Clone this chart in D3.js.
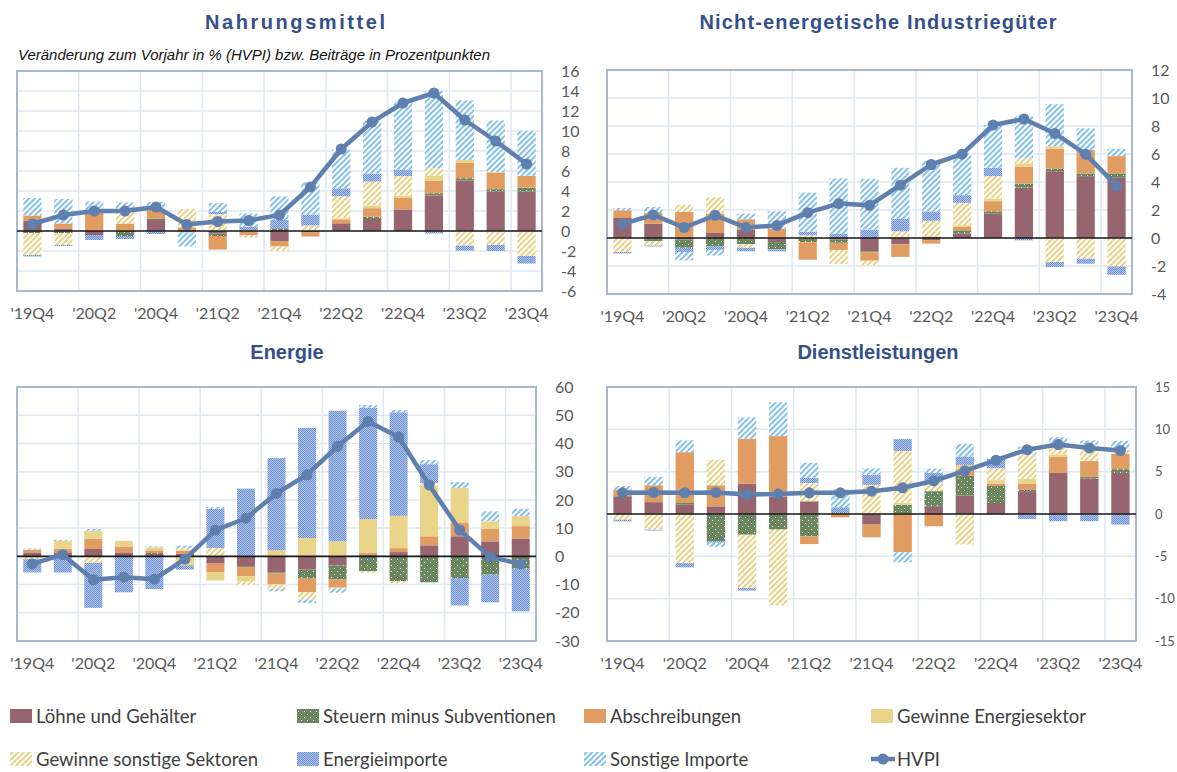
<!DOCTYPE html>
<html>
<head>
<meta charset="utf-8">
<script src="https://cdn.jsdelivr.net/npm/d3@7"></script>
<style>
  body { margin: 0; background: #fff; }
  svg { display: block; font-family: Lato, "Liberation Sans", sans-serif; }
</style>
</head>
<body>
<div id="chart"></div>
<script>

// ---- data -------------------------------------------------------------
const quarters = ["19Q4", "20Q1", "20Q2", "20Q3", "20Q4", "21Q1", "21Q2", "21Q3", "21Q4",
    "22Q1", "22Q2", "22Q3", "22Q4", "23Q1", "23Q2", "23Q3", "23Q4"];
const labelQuarters = quarters.filter(function(d, i) { return i % 2 === 0; });

const seriesKeys = ["loehne", "steuern", "abschr", "gewE", "gewS", "energieImp", "sonstImp"];
const seriesLabels = ["Löhne und Gehälter", "Steuern minus Subventionen", "Abschreibungen",
    "Gewinne Energiesektor", "Gewinne sonstige Sektoren", "Energieimporte", "Sonstige Importe"];
const lineLabel = "HVPI";

const panelTitles = ["Nahrungsmittel", "Nicht-energetische Industriegüter", "Energie", "Dienstleistungen"];
const subtitle = "Veränderung zum Vorjahr in % (HVPI) bzw. Beiträge in Prozentpunkten";

// Nahrungsmittel
const food_loehne     = [1.05, 0.25, -0.4, -0.1, 1.1, 0.1, -0.25, 0.05, -1.05, -0.15, 0.77, 1.2, 2.15, 3.55, 5.05, 3.95, 3.95];
const food_steuern    = [-0.2, -0.2, 0, -0.4, 0.15, 0, -0.25, 0, 0.27, 0, 0, 0.23, 0, 0.23, 0.23, 0.23, 0.4];
const food_abschr     = [0.5, 0.5, 1.8, 0.75, 0.95, 0.25, -1.35, -0.4, -0.5, -0.4, 0.4, 0.85, 1.15, 1.27, 1.55, 1.67, 1.17];
const food_gewE       = [0, 0, 0, 0, 0, 0, 0, 0, 0, 0, 0.1, 0.27, 0.25, 0.45, 0.27, 0.05, 0];
const food_gewS       = [-2.2, -1.2, 0, 1.3, 0, 1.85, 1.7, -0.25, -0.45, 0.55, 2.2, 2.4, 1.95, 0.8, -1.47, -1.4, -2.5];
const food_energieImp = [-0.15, -0.1, -0.5, -0.3, -0.3, -0.15, 0.2, 0.4, 0.85, 1.1, 0.8, 0.8, 0.65, -0.25, -0.5, -0.6, -0.75];
const food_sonstImp   = [1.75, 2.45, 1.15, 0.8, 0.7, -1.4, 0.9, 1.3, 2.35, 3.2, 3.85, 5.25, 6.7, 7.7, 5.95, 5.15, 4.5];
const food_hvpi       = [0.7, 1.6, 2.0, 2.0, 2.4, 0.65, 0.95, 1.05, 1.6, 4.4, 8.2, 10.9, 12.8, 13.8, 11.1, 9.0, 6.7];

// Nicht-energetische Industriegüter
const goods_loehne     = [1.43, 1.03, -0.1, 0.36, 0.6, -0.29, 0, -0.1, -0.95, -0.45, -0.15, 0.31, 1.74, 3.6, 4.77, 4.37, 4.3];
const goods_steuern    = [0, -0.24, -0.6, -0.6, -0.45, -0.52, -0.3, -0.24, -0.07, 0, 0.1, 0.24, 0.17, 0.29, 0.19, 0.24, 0.31];
const goods_abschr     = [0.55, 0.76, 1.86, 1.38, 0.74, 0.67, -1.25, -0.52, -0.6, -0.9, -0.25, 0.24, 0.72, 1.2, 1.43, 1.67, 1.24];
const goods_gewE       = [0, 0, 0, 0, 0, 0, 0, 0, 0, 0, 0, 0.12, 0.19, 0.24, 0.17, 0, 0];
const goods_gewS       = [-1.0, -0.3, 0.52, 1.15, -0.25, 0, 0.2, -1.0, -0.33, 0.48, 1.13, 1.6, 1.6, 0.36, -1.72, -1.48, -2.03];
const goods_energieImp = [-0.1, -0.07, -0.3, -0.25, -0.25, -0.15, 0.24, 0.3, 0.6, 0.88, 0.67, 0.55, 0.6, -0.17, -0.36, -0.36, -0.6];
const goods_sonstImp   = [0.17, 0.43, -0.6, -0.4, 0.4, 1.24, 2.8, 3.96, 3.62, 3.65, 3.6, 3.0, 3.05, 3.0, 3.0, 1.55, 0.52];
const goods_hvpi       = [1.0, 1.65, 0.75, 1.62, 0.75, 0.9, 1.81, 2.46, 2.34, 3.77, 5.25, 5.99, 8.07, 8.5, 7.47, 5.99, 3.72];

// Energie
const energy_loehne     = [1.2, 1.4, 2.6, 1.4, 0.83, 0.9, -2.6, -3.5, -5.7, -4.7, -3.3, 0.6, 1.5, 3.9, 7.1, 5.3, 6.3];
const energy_steuern    = [0.2, 0, 0, 0, 0.35, 0, 0, -0.3, -0.4, -3.2, -4.9, -5.3, -8.85, -9.2, -7.7, -6.5, -4.4];
const energy_abschr     = [1.0, 1.3, 3.66, 2.1, 0.95, 1.2, -2.95, -3.2, -3.9, -4.85, -2.9, 0.6, 1.4, 3.2, 4.7, 4.4, 4.4];
const energy_gewE       = [0, 2.8, 2.83, 2.0, 1.06, -3.2, -3.07, -1.8, 2.1, 6.5, 5.3, 12.0, 11.45, 17.9, 12.4, 2.7, 3.55];
const energy_gewS       = [-1.0, 0, -2.36, 0, 0, 0.8, 2.95, -1.4, -1.6, -2.6, -0.5, -0.6, -0.8, 0.95, 0, 0, 0];
const energy_energieImp = [-4.7, -5.7, -15.9, -12.75, -11.6, -1.5, 13.9, 24.0, 32.7, 39.0, 46.3, 39.5, 36.7, 6.7, -9.7, -9.8, -15.1];
const energy_sonstImp   = [0.35, 0.35, 0.6, 0, 0.35, 0.9, 0.6, 0, -0.8, -1.2, -1.3, 0.95, 0.8, 1.5, 2.1, 3.55, 2.6];
const energy_hvpi       = [-2.7, 0.6, -8.3, -7.4, -8.1, -0.95, 9.3, 13.5, 22.3, 28.9, 39.0, 47.8, 42.3, 25.3, 9.3, -0.2, -2.7];

// Dienstleistungen
const services_loehne     = [2.1, 1.4, 1.1, 0.9, 3.6, 2.0, 1.5, 0.1, -1.25, 0.05, 0.85, 2.2, 1.3, 2.7, 4.85, 4.2, 4.85];
const services_steuern    = [0, 0, 0.2, -3.2, -2.45, -1.85, -2.65, 0, 0, 1.05, 1.85, 2.3, 2.0, 0.2, 0, 0.2, 0.45];
const services_abschr     = [0.8, 2.0, 6.0, 2.5, 5.3, 7.2, -0.9, -0.4, -1.5, -4.5, -1.45, 0.8, 0.3, 0.7, 1.9, 1.85, 1.8];
const services_gewE       = [0, 0, 0, 0, 0, 0, 0, 0, 0, 0.25, 0, 0.5, 0.4, 0.55, 0.3, 0, 0];
const services_gewS       = [-0.67, -1.85, -5.8, 3.0, -6.3, -8.95, 2.15, 0, 3.45, 6.1, 1.05, -3.6, 1.4, 2.9, 1.2, 1.95, 0.5];
const services_energieImp = [-0.2, -0.1, -0.5, -0.2, -0.3, 0, 0.6, 0.7, 1.2, 1.4, 1.1, 1.0, 1.1, -0.6, -0.85, -0.85, -1.25];
const services_sonstImp   = [0.4, 1.0, 1.4, -0.5, 2.5, 4.0, 1.8, 2.1, 0.75, -1.2, 0.5, 1.5, 0, 0.9, 0.8, 0.5, 1.05];
const services_hvpi       = [2.5, 2.55, 2.5, 2.55, 2.3, 2.35, 2.5, 2.5, 2.7, 3.1, 3.9, 5.1, 6.35, 7.6, 8.2, 7.8, 7.5];

// ---- panels (layout kept apart from the values) -----------------------
const panels = [
    { title: panelTitles[0], titleX: 295, titleY: 22, titleLen: 180,
      box: [17, 542, 71, 291], domain: [-6, 16], step: 2, tickFont: 16,
      data: { loehne: food_loehne, steuern: food_steuern, abschr: food_abschr, gewE: food_gewE,
              gewS: food_gewS, energieImp: food_energieImp, sonstImp: food_sonstImp }, hvpi: food_hvpi },
    { title: panelTitles[1], titleX: 878, titleY: 22, titleLen: 357,
      box: [607, 1132, 70, 294], domain: [-4, 12], step: 2, tickFont: 16,
      data: { loehne: goods_loehne, steuern: goods_steuern, abschr: goods_abschr, gewE: goods_gewE,
              gewS: goods_gewS, energieImp: goods_energieImp, sonstImp: goods_sonstImp }, hvpi: goods_hvpi },
    { title: panelTitles[2], titleX: 287, titleY: 352, titleLen: null,
      box: [17, 536, 387, 641], domain: [-30, 60], step: 10, tickFont: 16,
      data: { loehne: energy_loehne, steuern: energy_steuern, abschr: energy_abschr, gewE: energy_gewE,
              gewS: energy_gewS, energieImp: energy_energieImp, sonstImp: energy_sonstImp }, hvpi: energy_hvpi },
    { title: panelTitles[3], titleX: 878, titleY: 352, titleLen: null,
      box: [607, 1136, 387, 641], domain: [-15, 15], step: 5, tickFont: 13,
      data: { loehne: services_loehne, steuern: services_steuern, abschr: services_abschr, gewE: services_gewE,
              gewS: services_gewS, energieImp: services_energieImp, sonstImp: services_sonstImp }, hvpi: services_hvpi }
];

const width = 1177, height = 772;
const tickColor = "#595959",
    gridColor = "#DEE7F2",
    frameColor = "#A9B9D2",
    lineColor = "#5F7FAF";

const svg = d3.select("#chart").append("svg")
    .attr("width", width)
    .attr("height", height);

// ---- fill patterns ----------------------------------------------------
const defs = svg.append("defs");

function hatch(id, color) {
    let p = defs.append("pattern").attr("id", id)
        .attr("patternUnits", "userSpaceOnUse")
        .attr("width", 4).attr("height", 4)
        .attr("patternTransform", "rotate(45)");
    p.append("rect").attr("width", 4).attr("height", 4).attr("fill", "#fff");
    p.append("rect").attr("width", 2).attr("height", 4).attr("fill", color);
}
hatch("pYellowHatch", "#E8D185");
hatch("pBlueHatch", "#84C0EC");

// green with white dots (Steuern)
let pd = defs.append("pattern").attr("id", "pDots")
    .attr("patternUnits", "userSpaceOnUse").attr("width", 6).attr("height", 6);
pd.append("rect").attr("width", 6).attr("height", 6).attr("fill", "#6B875E");
pd.append("rect").attr("x", 1).attr("y", 1).attr("width", 1).attr("height", 1).attr("fill", "#fff");
pd.append("rect").attr("x", 4).attr("y", 4).attr("width", 1).attr("height", 1).attr("fill", "#fff");

// fine blue checker (Energieimporte)
let pc = defs.append("pattern").attr("id", "pChecker")
    .attr("patternUnits", "userSpaceOnUse").attr("width", 2).attr("height", 2);
pc.append("rect").attr("width", 2).attr("height", 2).attr("fill", "#6C8FD3");
pc.append("rect").attr("x", 1).attr("y", 0).attr("width", 1).attr("height", 1).attr("fill", "#B3C6EC");
pc.append("rect").attr("x", 0).attr("y", 1).attr("width", 1).attr("height", 1).attr("fill", "#B3C6EC");

const fills = {
    loehne: "#97656F",
    steuern: "url(#pDots)",
    abschr: "#E19C62",
    gewE: "#EAD489",
    gewS: "url(#pYellowHatch)",
    energieImp: "url(#pChecker)",
    sonstImp: "url(#pBlueHatch)"
};

// ---- titles -----------------------------------------------------------
panels.forEach(function(p) {
    let t = svg.append("text")
        .attr("x", p.titleX)
        .attr("y", p.titleY)
        .attr("text-anchor", "middle")
        .attr("dominant-baseline", "central")
        .style("font-family", "'Liberation Sans', Arial, sans-serif")
        .style("font-weight", "bold")
        .style("font-size", "20px")
        .style("fill", "#34508A")
        .text(p.title);
    if (p.titleLen) t.attr("textLength", p.titleLen).attr("lengthAdjust", "spacing");
});

svg.append("text")
    .attr("x", 18)
    .attr("y", 55)
    .attr("dominant-baseline", "central")
    .attr("textLength", 472)
    .attr("lengthAdjust", "spacingAndGlyphs")
    .style("font-family", "'Liberation Sans', Arial, sans-serif")
    .style("font-style", "italic")
    .style("font-size", "14px")
    .style("fill", "#111")
    .text(subtitle);

// ---- panels -----------------------------------------------------------
panels.forEach(function(p) {

    let left = p.box[0], right = p.box[1], top = p.box[2], bottom = p.box[3];
    let g = svg.append("g");

    let x = d3.scaleBand()
        .domain(quarters)
        .range([left, right])
        .paddingInner(0.41)
        .paddingOuter(0.205);

    let y = d3.scaleLinear()
        .domain(p.domain)
        .range([bottom, top]);

    let ticks = d3.range(p.domain[0], p.domain[1] + p.step / 2, p.step);

    // gridlines
    g.append("g").selectAll("line.h")
        .data(ticks)
        .enter().append("line")
        .attr("x1", left).attr("x2", right)
        .attr("y1", function(d) { return y(d); })
        .attr("y2", function(d) { return y(d); })
        .style("stroke", gridColor)
        .style("stroke-width", 1.5);

    let step = x.step();
    g.append("g").selectAll("line.v")
        .data(quarters.filter(function(d, i) { return i % 2 === 1; }))
        .enter().append("line")
        .attr("x1", function(d) { return x(d) + x.bandwidth() + (step - x.bandwidth()) / 2; })
        .attr("x2", function(d) { return x(d) + x.bandwidth() + (step - x.bandwidth()) / 2; })
        .attr("y1", top).attr("y2", bottom)
        .style("stroke", gridColor)
        .style("stroke-width", 1.5);

    // stacked bars (positives up, negatives down, as in Excel)
    let rows = quarters.map(function(q, i) {
        let r = { q: q };
        seriesKeys.forEach(function(k) { r[k] = p.data[k][i]; });
        return r;
    });
    let stacked = d3.stack().keys(seriesKeys).offset(d3.stackOffsetDiverging)(rows);

    g.append("g").selectAll("g")
        .data(stacked)
        .enter().append("g")
        .style("fill", function(s) { return fills[s.key]; })
        .selectAll("rect")
        .data(function(s) { return s; })
        .enter().append("rect")
        .attr("x", function(d) { return x(d.data.q); })
        .attr("width", x.bandwidth())
        .attr("y", function(d) { return y(Math.max(d[0], d[1])); })
        .attr("height", function(d) { return Math.abs(y(d[0]) - y(d[1])); });

    // frame
    g.append("rect")
        .attr("x", left).attr("y", top)
        .attr("width", right - left).attr("height", bottom - top)
        .style("fill", "none")
        .style("stroke", frameColor)
        .style("stroke-width", 2);

    // zero line
    g.append("line")
        .attr("x1", left).attr("x2", right)
        .attr("y1", y(0)).attr("y2", y(0))
        .style("stroke", "#1a1a1a")
        .style("stroke-width", 1.6);

    // HVPI line
    let cx = function(d, i) { return x(quarters[i]) + x.bandwidth() / 2; };
    g.append("path")
        .datum(p.hvpi)
        .attr("d", d3.line().x(cx).y(function(d) { return y(d); }))
        .style("fill", "none")
        .style("stroke", lineColor)
        .style("stroke-width", 4.5)
        .style("stroke-linejoin", "round");

    g.append("g").selectAll("circle")
        .data(p.hvpi)
        .enter().append("circle")
        .attr("cx", cx)
        .attr("cy", function(d) { return y(d); })
        .attr("r", 5.5)
        .style("fill", lineColor);

    // y axis on the right
    let yAxis = g.append("g")
        .attr("transform", "translate(" + right + ",0)")
        .call(d3.axisRight(y).tickValues(ticks).tickSize(0).tickPadding(19)
            .tickFormat(function(d) { return String(d); }));
    yAxis.select(".domain").remove();
    yAxis.selectAll("text")
        .style("font-family", "Lato, sans-serif")
        .style("font-size", p.tickFont + "px")
        .style("fill", tickColor);

    // x axis
    let xAxis = g.append("g")
        .attr("transform", "translate(0," + bottom + ")")
        .call(d3.axisBottom(x).tickValues(labelQuarters).tickSize(0).tickPadding(17)
            .tickFormat(function(d) { return "'" + d; }));
    xAxis.select(".domain").remove();
    xAxis.selectAll("text")
        .style("font-family", "Lato, sans-serif")
        .style("font-size", "16px")
        .style("fill", tickColor);
});

// ---- legend -----------------------------------------------------------
const legendX = [10, 297, 584, 871],
    legendY = [716, 759];

let legendItems = seriesKeys.map(function(k, i) { return { label: seriesLabels[i], fill: fills[k] }; });
legendItems.push({ label: lineLabel, line: true });

let legend = svg.append("g").selectAll("g")
    .data(legendItems)
    .enter().append("g")
    .attr("transform", function(d, i) {
        return "translate(" + legendX[i % 4] + "," + legendY[Math.floor(i / 4)] + ")";
    });

legend.filter(function(d) { return !d.line; })
    .append("rect")
    .attr("x", 0).attr("y", -7)
    .attr("width", 22).attr("height", 14)
    .style("fill", function(d) { return d.fill; });

let lineItem = legend.filter(function(d) { return d.line; });
lineItem.append("line")
    .attr("x1", 0).attr("x2", 24)
    .style("stroke", lineColor)
    .style("stroke-width", 4.5);
lineItem.append("circle")
    .attr("cx", 12).attr("r", 5.5)
    .style("fill", lineColor);

legend.append("text")
    .attr("x", 26)
    .attr("dominant-baseline", "central")
    .style("font-family", "Lato, sans-serif")
    .style("font-size", "18.5px")
    .style("fill", "#404040")
    .text(function(d) { return d.label; });

</script>
</body>
</html>
